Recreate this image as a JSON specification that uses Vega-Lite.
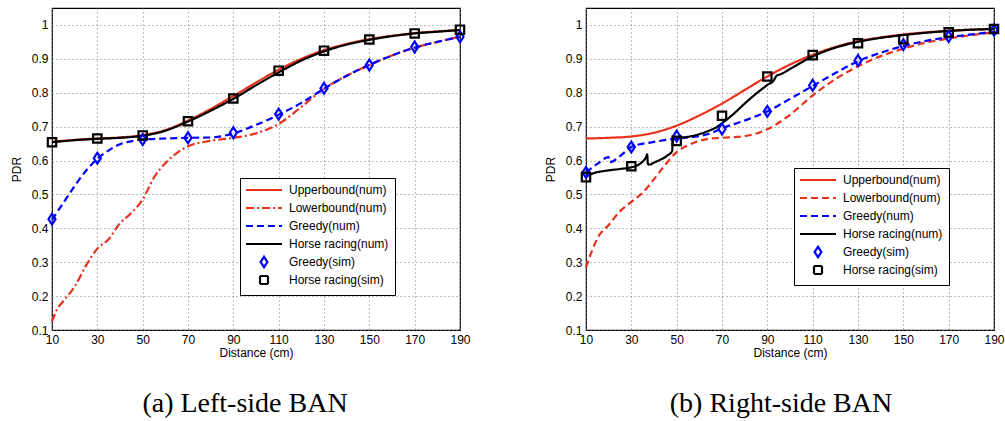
{
  "$schema": "https://vega.github.io/schema/vega-lite/v6.json",
  "padding": {"left": 9, "top": 7, "right": 0, "bottom": 0},
  "background": "white",
  "datasets": {
    "L": [
      {"s":"Upperbound(num)","d":10,"v":0.655},{"s":"Upperbound(num)","d":20,"v":0.661},{"s":"Upperbound(num)","d":30,"v":0.665},{"s":"Upperbound(num)","d":40,"v":0.668},{"s":"Upperbound(num)","d":50,"v":0.675},{"s":"Upperbound(num)","d":60,"v":0.69},{"s":"Upperbound(num)","d":70,"v":0.718},{"s":"Upperbound(num)","d":80,"v":0.752},{"s":"Upperbound(num)","d":90,"v":0.79},{"s":"Upperbound(num)","d":100,"v":0.83},{"s":"Upperbound(num)","d":110,"v":0.868},{"s":"Upperbound(num)","d":120,"v":0.9},{"s":"Upperbound(num)","d":130,"v":0.926},{"s":"Upperbound(num)","d":140,"v":0.944},{"s":"Upperbound(num)","d":150,"v":0.958},{"s":"Upperbound(num)","d":160,"v":0.968},{"s":"Upperbound(num)","d":170,"v":0.976},{"s":"Upperbound(num)","d":180,"v":0.981},{"s":"Upperbound(num)","d":190,"v":0.985},
      {"s":"Lowerbound(num)","d":10,"v":0.125},{"s":"Lowerbound(num)","d":12,"v":0.158},{"s":"Lowerbound(num)","d":15,"v":0.185},{"s":"Lowerbound(num)","d":20,"v":0.228},{"s":"Lowerbound(num)","d":25,"v":0.29},{"s":"Lowerbound(num)","d":30,"v":0.34},{"s":"Lowerbound(num)","d":35,"v":0.368},{"s":"Lowerbound(num)","d":40,"v":0.415},{"s":"Lowerbound(num)","d":45,"v":0.445},{"s":"Lowerbound(num)","d":50,"v":0.485},{"s":"Lowerbound(num)","d":55,"v":0.55},{"s":"Lowerbound(num)","d":60,"v":0.592},{"s":"Lowerbound(num)","d":65,"v":0.622},{"s":"Lowerbound(num)","d":70,"v":0.642},{"s":"Lowerbound(num)","d":80,"v":0.658},{"s":"Lowerbound(num)","d":90,"v":0.667},{"s":"Lowerbound(num)","d":100,"v":0.68},{"s":"Lowerbound(num)","d":110,"v":0.708},{"s":"Lowerbound(num)","d":120,"v":0.758},{"s":"Lowerbound(num)","d":130,"v":0.812},{"s":"Lowerbound(num)","d":140,"v":0.85},{"s":"Lowerbound(num)","d":150,"v":0.882},{"s":"Lowerbound(num)","d":160,"v":0.91},{"s":"Lowerbound(num)","d":170,"v":0.933},{"s":"Lowerbound(num)","d":180,"v":0.95},{"s":"Lowerbound(num)","d":190,"v":0.965},
      {"s":"Greedy(num)","d":10,"v":0.425},{"s":"Greedy(num)","d":15,"v":0.475},{"s":"Greedy(num)","d":20,"v":0.525},{"s":"Greedy(num)","d":25,"v":0.57},{"s":"Greedy(num)","d":30,"v":0.605},{"s":"Greedy(num)","d":35,"v":0.63},{"s":"Greedy(num)","d":40,"v":0.648},{"s":"Greedy(num)","d":45,"v":0.657},{"s":"Greedy(num)","d":50,"v":0.662},{"s":"Greedy(num)","d":60,"v":0.665},{"s":"Greedy(num)","d":70,"v":0.667},{"s":"Greedy(num)","d":80,"v":0.668},{"s":"Greedy(num)","d":90,"v":0.68},{"s":"Greedy(num)","d":100,"v":0.705},{"s":"Greedy(num)","d":110,"v":0.735},{"s":"Greedy(num)","d":120,"v":0.77},{"s":"Greedy(num)","d":130,"v":0.812},{"s":"Greedy(num)","d":140,"v":0.85},{"s":"Greedy(num)","d":150,"v":0.882},{"s":"Greedy(num)","d":160,"v":0.91},{"s":"Greedy(num)","d":170,"v":0.933},{"s":"Greedy(num)","d":180,"v":0.95},{"s":"Greedy(num)","d":190,"v":0.965},
      {"s":"Horse racing(num)","d":10,"v":0.654},{"s":"Horse racing(num)","d":20,"v":0.66},{"s":"Horse racing(num)","d":30,"v":0.664},{"s":"Horse racing(num)","d":40,"v":0.667},{"s":"Horse racing(num)","d":50,"v":0.673},{"s":"Horse racing(num)","d":60,"v":0.688},{"s":"Horse racing(num)","d":70,"v":0.715},{"s":"Horse racing(num)","d":80,"v":0.747},{"s":"Horse racing(num)","d":90,"v":0.782},{"s":"Horse racing(num)","d":100,"v":0.822},{"s":"Horse racing(num)","d":110,"v":0.86},{"s":"Horse racing(num)","d":120,"v":0.895},{"s":"Horse racing(num)","d":130,"v":0.922},{"s":"Horse racing(num)","d":140,"v":0.942},{"s":"Horse racing(num)","d":150,"v":0.956},{"s":"Horse racing(num)","d":160,"v":0.967},{"s":"Horse racing(num)","d":170,"v":0.975},{"s":"Horse racing(num)","d":180,"v":0.98},{"s":"Horse racing(num)","d":190,"v":0.985},
      {"s":"Greedy(sim)","d":10,"v":0.427},{"s":"Greedy(sim)","d":30,"v":0.607},{"s":"Greedy(sim)","d":50,"v":0.662},{"s":"Greedy(sim)","d":70,"v":0.667},{"s":"Greedy(sim)","d":90,"v":0.682},{"s":"Greedy(sim)","d":110,"v":0.737},{"s":"Greedy(sim)","d":130,"v":0.813},{"s":"Greedy(sim)","d":150,"v":0.882},{"s":"Greedy(sim)","d":170,"v":0.935},{"s":"Greedy(sim)","d":190,"v":0.965},
      {"s":"Horse racing(sim)","d":10,"v":0.654},{"s":"Horse racing(sim)","d":30,"v":0.665},{"s":"Horse racing(sim)","d":50,"v":0.674},{"s":"Horse racing(sim)","d":70,"v":0.716},{"s":"Horse racing(sim)","d":90,"v":0.783},{"s":"Horse racing(sim)","d":110,"v":0.865},{"s":"Horse racing(sim)","d":130,"v":0.924},{"s":"Horse racing(sim)","d":150,"v":0.957},{"s":"Horse racing(sim)","d":170,"v":0.975},{"s":"Horse racing(sim)","d":190,"v":0.986}
    ],
    "R": [
      {"s":"Upperbound(num)","d":10,"v":0.665},{"s":"Upperbound(num)","d":20,"v":0.667},{"s":"Upperbound(num)","d":30,"v":0.671},{"s":"Upperbound(num)","d":40,"v":0.682},{"s":"Upperbound(num)","d":50,"v":0.703},{"s":"Upperbound(num)","d":60,"v":0.733},{"s":"Upperbound(num)","d":70,"v":0.768},{"s":"Upperbound(num)","d":80,"v":0.808},{"s":"Upperbound(num)","d":90,"v":0.848},{"s":"Upperbound(num)","d":100,"v":0.883},{"s":"Upperbound(num)","d":110,"v":0.912},{"s":"Upperbound(num)","d":120,"v":0.935},{"s":"Upperbound(num)","d":130,"v":0.952},{"s":"Upperbound(num)","d":140,"v":0.963},{"s":"Upperbound(num)","d":150,"v":0.972},{"s":"Upperbound(num)","d":160,"v":0.978},{"s":"Upperbound(num)","d":170,"v":0.983},{"s":"Upperbound(num)","d":180,"v":0.986},{"s":"Upperbound(num)","d":190,"v":0.988},
      {"s":"Lowerbound(num)","d":10,"v":0.285},{"s":"Lowerbound(num)","d":13,"v":0.34},{"s":"Lowerbound(num)","d":15,"v":0.37},{"s":"Lowerbound(num)","d":20,"v":0.41},{"s":"Lowerbound(num)","d":25,"v":0.45},{"s":"Lowerbound(num)","d":30,"v":0.478},{"s":"Lowerbound(num)","d":35,"v":0.505},{"s":"Lowerbound(num)","d":40,"v":0.545},{"s":"Lowerbound(num)","d":45,"v":0.588},{"s":"Lowerbound(num)","d":50,"v":0.625},{"s":"Lowerbound(num)","d":55,"v":0.645},{"s":"Lowerbound(num)","d":60,"v":0.658},{"s":"Lowerbound(num)","d":65,"v":0.665},{"s":"Lowerbound(num)","d":70,"v":0.667},{"s":"Lowerbound(num)","d":80,"v":0.672},{"s":"Lowerbound(num)","d":90,"v":0.692},{"s":"Lowerbound(num)","d":100,"v":0.735},{"s":"Lowerbound(num)","d":110,"v":0.792},{"s":"Lowerbound(num)","d":120,"v":0.84},{"s":"Lowerbound(num)","d":130,"v":0.878},{"s":"Lowerbound(num)","d":140,"v":0.908},{"s":"Lowerbound(num)","d":150,"v":0.93},{"s":"Lowerbound(num)","d":160,"v":0.948},{"s":"Lowerbound(num)","d":170,"v":0.96},{"s":"Lowerbound(num)","d":180,"v":0.97},{"s":"Lowerbound(num)","d":190,"v":0.978},
      {"s":"Greedy(num)","d":10,"v":0.565},{"s":"Greedy(num)","d":15,"v":0.59},{"s":"Greedy(num)","d":20,"v":0.61},{"s":"Greedy(num)","d":20.5,"v":0.595},{"s":"Greedy(num)","d":25,"v":0.613},{"s":"Greedy(num)","d":30,"v":0.64},{"s":"Greedy(num)","d":40,"v":0.655},{"s":"Greedy(num)","d":50,"v":0.665},{"s":"Greedy(num)","d":60,"v":0.672},{"s":"Greedy(num)","d":65,"v":0.68},{"s":"Greedy(num)","d":70,"v":0.695},{"s":"Greedy(num)","d":80,"v":0.718},{"s":"Greedy(num)","d":90,"v":0.745},{"s":"Greedy(num)","d":100,"v":0.782},{"s":"Greedy(num)","d":110,"v":0.82},{"s":"Greedy(num)","d":120,"v":0.858},{"s":"Greedy(num)","d":130,"v":0.893},{"s":"Greedy(num)","d":140,"v":0.918},{"s":"Greedy(num)","d":150,"v":0.938},{"s":"Greedy(num)","d":160,"v":0.953},{"s":"Greedy(num)","d":170,"v":0.964},{"s":"Greedy(num)","d":180,"v":0.972},{"s":"Greedy(num)","d":190,"v":0.98},
      {"s":"Horse racing(num)","d":10,"v":0.552},{"s":"Horse racing(num)","d":13,"v":0.562},{"s":"Horse racing(num)","d":17,"v":0.568},{"s":"Horse racing(num)","d":20,"v":0.571},{"s":"Horse racing(num)","d":25,"v":0.575},{"s":"Horse racing(num)","d":30,"v":0.58},{"s":"Horse racing(num)","d":33,"v":0.587},{"s":"Horse racing(num)","d":35,"v":0.597},{"s":"Horse racing(num)","d":36.5,"v":0.61},{"s":"Horse racing(num)","d":37,"v":0.618},{"s":"Horse racing(num)","d":37.3,"v":0.59},{"s":"Horse racing(num)","d":38,"v":0.588},{"s":"Horse racing(num)","d":40,"v":0.594},{"s":"Horse racing(num)","d":43,"v":0.603},{"s":"Horse racing(num)","d":46,"v":0.615},{"s":"Horse racing(num)","d":48,"v":0.628},{"s":"Horse racing(num)","d":48.3,"v":0.658},{"s":"Horse racing(num)","d":49,"v":0.664},{"s":"Horse racing(num)","d":50,"v":0.666},{"s":"Horse racing(num)","d":55,"v":0.67},{"s":"Horse racing(num)","d":60,"v":0.678},{"s":"Horse racing(num)","d":65,"v":0.69},{"s":"Horse racing(num)","d":68,"v":0.7},{"s":"Horse racing(num)","d":70,"v":0.71},{"s":"Horse racing(num)","d":75,"v":0.737},{"s":"Horse racing(num)","d":80,"v":0.768},{"s":"Horse racing(num)","d":85,"v":0.797},{"s":"Horse racing(num)","d":90,"v":0.823},{"s":"Horse racing(num)","d":93,"v":0.838},{"s":"Horse racing(num)","d":94,"v":0.85},{"s":"Horse racing(num)","d":96,"v":0.855},{"s":"Horse racing(num)","d":100,"v":0.87},{"s":"Horse racing(num)","d":110,"v":0.907},{"s":"Horse racing(num)","d":120,"v":0.933},{"s":"Horse racing(num)","d":130,"v":0.95},{"s":"Horse racing(num)","d":140,"v":0.962},{"s":"Horse racing(num)","d":150,"v":0.97},{"s":"Horse racing(num)","d":160,"v":0.977},{"s":"Horse racing(num)","d":170,"v":0.982},{"s":"Horse racing(num)","d":180,"v":0.986},{"s":"Horse racing(num)","d":190,"v":0.988},
      {"s":"Greedy(sim)","d":10,"v":0.565},{"s":"Greedy(sim)","d":30,"v":0.64},{"s":"Greedy(sim)","d":50,"v":0.672},{"s":"Greedy(sim)","d":70,"v":0.693},{"s":"Greedy(sim)","d":90,"v":0.745},{"s":"Greedy(sim)","d":110,"v":0.822},{"s":"Greedy(sim)","d":130,"v":0.895},{"s":"Greedy(sim)","d":150,"v":0.942},{"s":"Greedy(sim)","d":170,"v":0.966},{"s":"Greedy(sim)","d":190,"v":0.985},
      {"s":"Horse racing(sim)","d":10,"v":0.551},{"s":"Horse racing(sim)","d":30,"v":0.583},{"s":"Horse racing(sim)","d":50,"v":0.658},{"s":"Horse racing(sim)","d":70,"v":0.732},{"s":"Horse racing(sim)","d":90,"v":0.848},{"s":"Horse racing(sim)","d":110,"v":0.911},{"s":"Horse racing(sim)","d":130,"v":0.946},{"s":"Horse racing(sim)","d":150,"v":0.958},{"s":"Horse racing(sim)","d":170,"v":0.978},{"s":"Horse racing(sim)","d":190,"v":0.988}
    ]
  },
  "config": {
    "font": "Liberation Sans",
    "view": {"stroke": "#000000", "strokeWidth": 1.2},
    "axis": {
      "domain": false, "ticks": false, "labelFontSize": 12, "labelColor": "#000000",
      "titleFontSize": 12, "titleFontWeight": "normal", "titleColor": "#000000",
      "grid": true, "gridColor": "#777777", "gridDash": [1, 3], "gridWidth": 1, "gridOpacity": 1,
      "labelPadding": 4, "labelFlush": false, "labelOverlap": false
    },
    "legend": {
      "orient": "none", "title": null, "strokeColor": "#000000", "fillColor": "#ffffff",
      "padding": 6, "labelFontSize": 12, "labelColor": "#000000", "symbolStrokeWidth": 2.2,
      "symbolSize": 64, "symbolOffset": 12, "labelOffset": 19, "rowPadding": -2, "labelLimit": 300,
      "gridAlign": "all"
    }
  },
  "spacing": 72,
  "hconcat": [
    {
      "width": 408, "height": 322,
      "data": {"name": "L"},
      "title": {"text": "(a) Left-side BAN", "orient": "bottom", "font": "Liberation Serif", "fontSize": 28, "fontWeight": "normal", "color": "#000000", "anchor": "middle", "offset": 32, "dx": -11},
      "encoding": {
        "x": {"field": "d", "type": "quantitative", "title": "Distance (cm)", "scale": {"domain": [10, 190], "nice": false}, "axis": {"values": [10,30,50,70,90,110,130,150,170,190], "titlePadding": 2}},
        "y": {"field": "v", "type": "quantitative", "title": "PDR", "scale": {"domain": [0.1, 1.05], "nice": false}, "axis": {"values": [0.1,0.2,0.3,0.4,0.5,0.6,0.7,0.8,0.9,1], "format": "~g", "titlePadding": 8}},
        "color": {"field": "s", "type": "nominal", "scale": {"domain": ["Upperbound(num)","Lowerbound(num)","Greedy(num)","Horse racing(num)","Greedy(sim)","Horse racing(sim)"], "range": ["#e8301a","#e8301a","#0000ff","#000000","#0000ff","#000000"]}, "legend": {"legendX": 188, "legendY": 170}},
        "strokeDash": {"field": "s", "type": "nominal", "scale": {"domain": ["Upperbound(num)","Lowerbound(num)","Greedy(num)","Horse racing(num)","Greedy(sim)","Horse racing(sim)"], "range": [[1,0],[8,3,2,3],[7,4],[1,0],[1,0],[1,0]]}, "legend": {"legendX": 188, "legendY": 170}},
        "shape": {"field": "s", "type": "nominal", "scale": {"domain": ["Upperbound(num)","Lowerbound(num)","Greedy(num)","Horse racing(num)","Greedy(sim)","Horse racing(sim)"], "range": ["M-4.5,0H4.5","M-4.5,0H4.5","M-4.5,0H4.5","M-4.5,0H4.5","M0,-1.3L0.85,0L0,1.3L-0.85,0Z","square"]}, "legend": {"legendX": 188, "legendY": 170}}
      },
      "layer": [
        {"transform": [{"filter": "indexof(datum.s, '(num)') >= 0"}], "mark": {"type": "line", "strokeWidth": 2.2, "interpolate": "monotone"}, "encoding": {"shape": null}},
        {"transform": [{"filter": "indexof(datum.s, '(sim)') >= 0"}], "mark": {"type": "point", "filled": false, "size": 70, "strokeWidth": 2.2, "opacity": 1}}
      ]
    },
    {
      "width": 408, "height": 322,
      "data": {"name": "R"},
      "title": {"text": "(b) Right-side BAN", "orient": "bottom", "font": "Liberation Serif", "fontSize": 28, "fontWeight": "normal", "color": "#000000", "anchor": "middle", "offset": 32, "dx": -9},
      "encoding": {
        "x": {"field": "d", "type": "quantitative", "title": "Distance (cm)", "scale": {"domain": [10, 190], "nice": false}, "axis": {"values": [10,30,50,70,90,110,130,150,170,190], "titlePadding": 2}},
        "y": {"field": "v", "type": "quantitative", "title": "PDR", "scale": {"domain": [0.1, 1.05], "nice": false}, "axis": {"values": [0.1,0.2,0.3,0.4,0.5,0.6,0.7,0.8,0.9,1], "format": "~g", "titlePadding": 8}},
        "color": {"field": "s", "type": "nominal", "scale": {"domain": ["Upperbound(num)","Lowerbound(num)","Greedy(num)","Horse racing(num)","Greedy(sim)","Horse racing(sim)"], "range": ["#e8301a","#e8301a","#0000ff","#000000","#0000ff","#000000"]}, "legend": {"legendX": 208, "legendY": 160}},
        "strokeDash": {"field": "s", "type": "nominal", "scale": {"domain": ["Upperbound(num)","Lowerbound(num)","Greedy(num)","Horse racing(num)","Greedy(sim)","Horse racing(sim)"], "range": [[1,0],[7,4],[7,4],[1,0],[1,0],[1,0]]}, "legend": {"legendX": 208, "legendY": 160}},
        "shape": {"field": "s", "type": "nominal", "scale": {"domain": ["Upperbound(num)","Lowerbound(num)","Greedy(num)","Horse racing(num)","Greedy(sim)","Horse racing(sim)"], "range": ["M-4.5,0H4.5","M-4.5,0H4.5","M-4.5,0H4.5","M-4.5,0H4.5","M0,-1.3L0.85,0L0,1.3L-0.85,0Z","square"]}, "legend": {"legendX": 208, "legendY": 160}}
      },
      "layer": [
        {"transform": [{"filter": "indexof(datum.s, '(num)') >= 0"}], "mark": {"type": "line", "strokeWidth": 2.2, "interpolate": "monotone"}, "encoding": {"shape": null}},
        {"transform": [{"filter": "indexof(datum.s, '(sim)') >= 0"}], "mark": {"type": "point", "filled": false, "size": 70, "strokeWidth": 2.2, "opacity": 1}}
      ]
    }
  ],
  "resolve": {"scale": {"color": "independent", "strokeDash": "independent", "shape": "independent"}, "legend": {"color": "independent", "strokeDash": "independent", "shape": "independent"}}
}
